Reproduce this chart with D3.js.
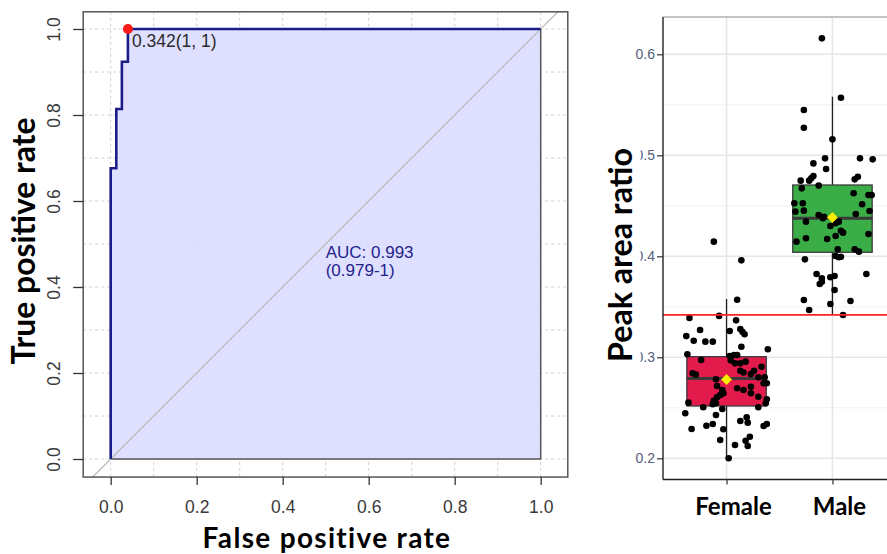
<!DOCTYPE html>
<html><head><meta charset="utf-8">
<script src="https://cdn.jsdelivr.net/npm/d3@7"></script>
<style>html,body{margin:0;padding:0;background:#fff;}svg{display:block;}</style>
</head><body>
<svg id="chart" width="887" height="554"></svg>
<script>
// ---------- DATA ----------
const rocFPR = [0, 0, 0.013, 0.013, 0.026, 0.026, 0.04, 0.04, 1];
const rocTPR = [0, 0.676, 0.676, 0.814, 0.814, 0.924, 0.924, 1, 1];
const rocTicks = [0, 0.2, 0.4, 0.6, 0.8, 1.0];
const rocGrid = [0, 0.1, 0.2, 0.3, 0.4, 0.5, 0.6, 0.7, 0.8, 0.9, 1.0];
const bestPoint = [0.04, 1.0];
const bestLabel = "0.342(1, 1)";
const aucLines = ["AUC: 0.993", "(0.979-1)"];
const aucPos = [0.5, 0.4];

const categories = ["Female", "Male"];
const boxQ1 = [0.2518, 0.404];
const boxMedian = [0.279, 0.4376];
const boxQ3 = [0.3006, 0.4706];
const whiskLo = [0.200, 0.342];
const whiskHi = [0.3577, 0.558];
const groupMean = [0.278, 0.4385];
const cutoff = 0.342;
const ratioTicks = [0.2, 0.3, 0.4, 0.5, 0.6];
const ratioMinor = [0.25, 0.35, 0.45, 0.55];

const femaleValues = [0.4145,0.396,0.357,0.339,0.341,0.3366,0.327,0.326,0.328,0.3253,0.3228,0.321,0.3164,0.3155,0.3155,0.3105,0.308,0.303,0.2973,0.3013,0.3023,0.3023,0.297,0.294,0.294,0.2957,0.2907,0.2867,0.285,0.2867,0.2835,0.2842,0.2828,0.2802,0.2802,0.2743,0.2743,0.2782,0.2716,0.2693,0.2676,0.2709,0.2676,0.2644,0.2627,0.2644,0.261,0.2584,0.2604,0.257,0.2545,0.2535,0.2551,0.2545,0.2505,0.2505,0.2488,0.2446,0.2429,0.2369,0.2406,0.2353,0.234,0.2323,0.229,0.2287,0.234,0.232,0.2214,0.2174,0.2181,0.2132,0.2122,0.200];
const femaleJitter = [-0.12,0.14,0.10,-0.35,-0.07,0.09,-0.25,0.03,0.13,0.15,0.17,-0.38,-0.31,-0.20,-0.13,0.14,0.39,-0.37,-0.24,0.03,0.07,0.10,0.04,0.08,0.13,0.18,0.33,0.13,0.16,0.26,0.23,-0.32,-0.29,0.30,0.36,0.38,0.35,-0.10,-0.09,0.10,0.16,0.23,-0.04,-0.03,-0.06,0.23,0.30,0.38,-0.09,-0.12,-0.10,-0.13,-0.36,0.37,0.30,-0.22,-0.04,-0.39,-0.10,0.13,0.19,0.20,-0.13,-0.19,-0.33,-0.03,0.38,0.35,0.22,0.18,-0.06,0.08,0.20,0.02];
const maleValues = [0.6158,0.557,0.5449,0.5273,0.5158,0.492,0.497,0.497,0.496,0.4864,0.4788,0.4762,0.4795,0.4772,0.4749,0.4749,0.47,0.4673,0.4624,0.4607,0.4607,0.4525,0.4525,0.4515,0.4442,0.4452,0.4449,0.4419,0.4409,0.4376,0.4392,0.4343,0.4343,0.4327,0.43,0.4253,0.4234,0.4201,0.4221,0.4145,0.4178,0.4171,0.4069,0.4069,0.4046,0.4003,0.399,0.3996,0.397,0.3825,0.3782,0.3726,0.3749,0.3792,0.3805,0.3825,0.3666,0.3567,0.3557,0.3528,0.3468,0.3419];
const maleJitter = [-0.10,0.08,-0.27,-0.27,0.00,-0.18,-0.07,0.26,0.38,-0.06,0.24,0.21,-0.18,-0.20,-0.22,-0.30,-0.13,-0.29,0.20,0.34,0.37,-0.36,-0.28,0.28,-0.35,-0.27,0.35,0.22,-0.13,-0.09,-0.08,-0.25,0.06,0.03,-0.02,0.08,0.10,0.03,0.34,-0.34,-0.25,-0.05,0.05,0.21,0.25,0.03,0.06,0.08,-0.26,-0.15,-0.10,-0.12,-0.10,-0.02,0.02,0.32,0.02,-0.27,0.17,-0.02,-0.22,0.10];

// ---------- DRAW ----------
const svg = d3.select("#chart");
const TICKFONT = "'Liberation Sans', Arial, sans-serif";
const TITLEFONT = "Lato, 'Open Sans', sans-serif";

function fitWidth(sel, target) {
  const w = sel.node().getComputedTextLength();
  const fs = parseFloat(sel.attr("font-size"));
  sel.attr("font-size", fs * target / w);
}
function fitSpacing(sel, target) {
  const w = sel.node().getComputedTextLength();
  const n = sel.text().length;
  sel.attr("letter-spacing", (target - w) / (n - 1));
}

// ===== Left panel: ROC =====
const xL = d3.scaleLinear().domain([0, 1]).range([110.7, 540.7]);
const yL = d3.scaleLinear().domain([0, 1]).range([459, 29]);
const L = { x0: xL(-0.064), x1: xL(1.063), y0: yL(1.04), y1: yL(-0.042) };

svg.append("clipPath").attr("id", "clipL").append("rect")
  .attr("x", L.x0).attr("y", L.y0).attr("width", L.x1 - L.x0).attr("height", L.y1 - L.y0);
const gL = svg.append("g");
const gLc = gL.append("g").attr("clip-path", "url(#clipL)");

// grid
gLc.selectAll(".vg").data(rocGrid).join("line")
  .attr("x1", d => xL(d)).attr("x2", d => xL(d)).attr("y1", L.y0).attr("y2", L.y1)
  .attr("stroke", "#d0d0d0").attr("stroke-width", 1).attr("stroke-dasharray", "3,3");
gLc.selectAll(".hg").data(rocGrid).join("line")
  .attr("y1", d => yL(d)).attr("y2", d => yL(d)).attr("x1", L.x0).attr("x2", L.x1)
  .attr("stroke", "#d0d0d0").attr("stroke-width", 1).attr("stroke-dasharray", "3,3");

// AUC polygon
const rocPts = rocFPR.map((f, i) => [f, rocTPR[i]]);
const polyPts = rocPts.concat([[1, 0]]);
gLc.append("path")
  .attr("d", d3.line().x(d => xL(d[0])).y(d => yL(d[1]))(polyPts) + "Z")
  .attr("fill", "#dcdcff").attr("fill-opacity", 0.9)
  .attr("stroke", "#555").attr("stroke-width", 1.5);

// diagonal
gLc.append("line")
  .attr("x1", xL(-0.1)).attr("y1", yL(-0.1)).attr("x2", xL(1.1)).attr("y2", yL(1.1))
  .attr("stroke", "#bdbdbd").attr("stroke-width", 1.3);

// ROC curve
gLc.append("path")
  .attr("d", d3.line().x(d => xL(d[0])).y(d => yL(d[1]))(rocPts))
  .attr("fill", "none").attr("stroke", "#1c1c88").attr("stroke-width", 2.6);

// best point
gL.append("circle").attr("cx", xL(bestPoint[0])).attr("cy", yL(bestPoint[1])).attr("r", 5)
  .attr("fill", "#ff1a1a");
gL.append("text").attr("x", xL(bestPoint[0]) + 4).attr("y", yL(bestPoint[1]) + 17.5)
  .attr("font-family", TICKFONT).attr("font-size", 17.5).attr("fill", "#2a2a2a").text(bestLabel);

// AUC text
gL.selectAll(".auc").data(aucLines).join("text")
  .attr("x", xL(aucPos[0])).attr("y", (d, i) => yL(aucPos[1]) - 29.5 + i * 18.5)
  .attr("font-family", TICKFONT).attr("font-size", 17).attr("fill", "#23238a").text(d => d);

// plot box
gL.append("rect").attr("x", L.x0).attr("y", L.y0).attr("width", L.x1 - L.x0).attr("height", L.y1 - L.y0)
  .attr("fill", "none").attr("stroke", "#555").attr("stroke-width", 1.5);

// axes
const axB = gL.append("g").attr("transform", `translate(0,${L.y1})`)
  .call(d3.axisBottom(xL).tickValues(rocTicks).tickFormat(d3.format(".1f")).tickSize(8).tickPadding(16));
axB.select(".domain").remove();
axB.selectAll("line").attr("stroke", "#333").attr("stroke-width", 1.3);
axB.selectAll("text").attr("font-family", TICKFONT).attr("font-size", 17.5).attr("fill", "#3a3a3a");

const axLft = gL.append("g").attr("transform", `translate(${L.x0},0)`)
  .call(d3.axisLeft(yL).tickValues(rocTicks).tickFormat(d3.format(".1f")).tickSize(10));
axLft.select(".domain").remove();
axLft.selectAll("line").attr("stroke", "#333").attr("stroke-width", 1.3);
axLft.selectAll("text").attr("x", null).attr("dy", null).attr("text-anchor", "middle")
  .attr("transform", `translate(${60 - L.x0},0) rotate(-90)`)
  .attr("font-family", TICKFONT).attr("font-size", 17.5).attr("fill", "#3a3a3a");

// titles
const tY = svg.append("text").attr("transform", "translate(35,241) rotate(-90)")
  .attr("text-anchor", "middle").attr("font-family", TITLEFONT).attr("font-weight", 700)
  .attr("font-size", 28).attr("fill", "#000").text("True positive rate");
fitWidth(tY, 247);
const tX = svg.append("text").attr("x", 327).attr("y", 548)
  .attr("text-anchor", "middle").attr("font-family", TITLEFONT).attr("font-weight", 700)
  .attr("font-size", 28).attr("fill", "#000").text("False positive rate");
fitSpacing(tX, 248);

// ===== Right panel: box plot =====
const yR = d3.scaleLinear().domain([0.2, 0.6]).range([458.3, 54.3]);
const xR = d3.scaleLinear().domain([0.4, 2.6]).range([663, 896]);
const catPos = c => xR(categories.indexOf(c) + 1);
const R = { x0: xR(0.4), x1: xR(2.6), y0: yR(0.637), y1: yR(0.179) };
const unit = xR(2) - xR(1);
const gR = svg.append("g");

// grid
gR.selectAll(".mn").data(ratioMinor).join("line")
  .attr("x1", R.x0).attr("x2", R.x1).attr("y1", d => yR(d)).attr("y2", d => yR(d))
  .attr("stroke", "#f0f0f0").attr("stroke-width", 1);
gR.selectAll(".mj").data(ratioTicks).join("line")
  .attr("x1", R.x0).attr("x2", R.x1).attr("y1", d => yR(d)).attr("y2", d => yR(d))
  .attr("stroke", "#e6e6e6").attr("stroke-width", 1.6);
gR.selectAll(".vx").data(categories).join("line")
  .attr("x1", d => catPos(d)).attr("x2", d => catPos(d)).attr("y1", R.y0).attr("y2", R.y1)
  .attr("stroke", "#e6e6e6").attr("stroke-width", 1.6);
gR.append("line").attr("x1", R.x0).attr("x2", R.x1).attr("y1", R.y0).attr("y2", R.y0)
  .attr("stroke", "#b0b0b0").attr("stroke-width", 1.5);

const boxColors = ["#e31b4d", "#3aad47"];
const halfW = 0.375 * unit;
categories.forEach((c, i) => {
  const cx = catPos(c);
  gR.append("line").attr("x1", cx).attr("x2", cx).attr("y1", yR(boxQ3[i])).attr("y2", yR(whiskHi[i]))
    .attr("stroke", "#222").attr("stroke-width", 1.3);
  gR.append("line").attr("x1", cx).attr("x2", cx).attr("y1", yR(boxQ1[i])).attr("y2", yR(whiskLo[i]))
    .attr("stroke", "#222").attr("stroke-width", 1.3);
  gR.append("rect").attr("x", cx - halfW).attr("width", 2 * halfW)
    .attr("y", yR(boxQ3[i])).attr("height", yR(boxQ1[i]) - yR(boxQ3[i]))
    .attr("fill", boxColors[i]).attr("stroke", "#3a3a3a").attr("stroke-width", 1.3);
  gR.append("line").attr("x1", cx - halfW).attr("x2", cx + halfW)
    .attr("y1", yR(boxMedian[i])).attr("y2", yR(boxMedian[i]))
    .attr("stroke", "#3a3a3a").attr("stroke-width", 3);
});

// points
const pts = [];
femaleValues.forEach((v, i) => pts.push({ c: "Female", v, j: femaleJitter[i] }));
maleValues.forEach((v, i) => pts.push({ c: "Male", v, j: maleJitter[i] }));
gR.selectAll(".pt").data(pts).join("circle")
  .attr("cx", d => catPos(d.c) + d.j * unit).attr("cy", d => yR(d.v)).attr("r", 3.3)
  .attr("fill", "#000");

// means
const diamond = d3.symbol().type(d3.symbolDiamond2).size(70);
categories.forEach((c, i) => {
  gR.append("path").attr("d", diamond())
    .attr("transform", `translate(${catPos(c)},${yR(groupMean[i])})`)
    .attr("fill", "#ffee00").attr("stroke", "#f5e000").attr("stroke-width", 0.5);
});

// cutoff line
gR.append("line").attr("x1", R.x0).attr("x2", R.x1).attr("y1", yR(cutoff)).attr("y2", yR(cutoff))
  .attr("stroke", "#ff2020").attr("stroke-width", 1.6);

// axis lines
gR.append("line").attr("x1", R.x0).attr("x2", R.x0).attr("y1", R.y0).attr("y2", R.y1)
  .attr("stroke", "#222").attr("stroke-width", 1.4);
gR.append("line").attr("x1", R.x0).attr("x2", R.x1).attr("y1", R.y1).attr("y2", R.y1)
  .attr("stroke", "#222").attr("stroke-width", 1.4);

const axRL = gR.append("g").attr("transform", `translate(${R.x0},0)`)
  .call(d3.axisLeft(yR).tickValues(ratioTicks).tickFormat(d3.format(".1f")).tickSize(6).tickPadding(2));
axRL.select(".domain").remove();
axRL.selectAll("line").attr("stroke", "#333").attr("stroke-width", 1.2);
axRL.selectAll("text").attr("font-family", TICKFONT).attr("font-size", 14).attr("fill", "#55607a");

const axRB = gR.append("g").attr("transform", `translate(0,${R.y1})`)
  .call(d3.axisBottom(xR).tickValues([1, 2]).tickFormat("").tickSize(5));
axRB.select(".domain").remove();
axRB.selectAll("line").attr("stroke", "#333").attr("stroke-width", 1.2);

// category labels
svg.selectAll(".cat").data(categories).join("text")
  .attr("x", d => catPos(d) + 7).attr("y", 515).attr("text-anchor", "middle")
  .attr("font-family", TITLEFONT).attr("font-weight", 700).attr("font-size", 24)
  .attr("fill", "#000").text(d => d);

// y title with white backing
const bg = svg.append("rect").attr("fill", "#fff");
const tR = svg.append("text").attr("transform", "translate(632,255) rotate(-90)")
  .attr("text-anchor", "middle").attr("font-family", TITLEFONT).attr("font-weight", 700)
  .attr("font-size", 28).attr("fill", "#000").text("Peak area ratio");
fitWidth(tR, 214);
bg.attr("x", 600).attr("width", 40.5).attr("y", 255 - 110).attr("height", 220);
</script>
</body></html>
